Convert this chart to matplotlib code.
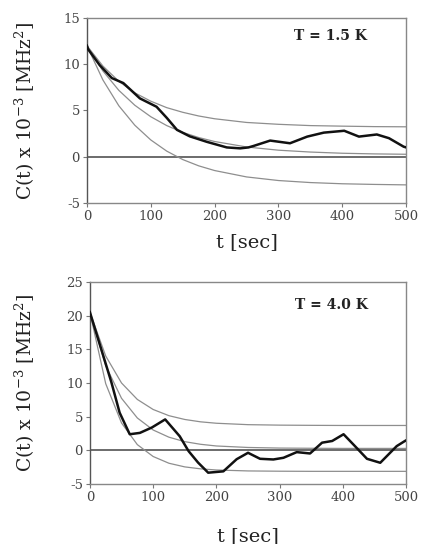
import matplotlib
matplotlib.use("Agg")
import matplotlib.pyplot as plt

# measured correlation, T = 1.5 K
t_top = [0, 2, 20, 39, 57, 83, 109, 125, 141, 161, 188, 219, 240, 253, 261, 287,
         318, 345, 371, 403, 426, 454, 473, 496, 500]
c_top = [12.0, 11.6, 9.9, 8.5, 7.96, 6.3, 5.4, 4.2, 2.9, 2.2, 1.6, 1.0, 0.9, 1.0,
         1.16, 1.74, 1.45, 2.17, 2.6, 2.8, 2.17, 2.4, 2.0, 1.08, 1.0]

# measured correlation, T = 4.0 K
t_bot = [0, 18, 34, 47, 63, 79, 98, 119, 142, 156, 171, 187, 211, 232, 250, 269,
         290, 306, 327, 348, 367, 383, 401, 419, 438, 459, 485, 498, 500]
c_bot = [20.5, 15.0, 10.1, 5.6, 2.4, 2.6, 3.4, 4.6, 2.1, -0.1, -1.8, -3.3, -3.1,
         -1.3, -0.35, -1.24, -1.34, -1.09, -0.25, -0.45, 1.15, 1.4, 2.4, 0.64,
         -1.24, -1.83, 0.64, 1.4, 1.5]

# fitted curves (grey)
t_fit = [0, 25, 50, 75, 100, 125, 150, 175, 200, 250, 300, 350, 400, 450, 500]
top_hi = [12.0, 9.8, 8.15, 6.9, 6.0, 5.3, 4.8, 4.4, 4.1, 3.7, 3.5, 3.36, 3.3, 3.25, 3.23]
top_mid = [12.0, 9.27, 7.17, 5.56, 4.32, 3.36, 2.63, 2.07, 1.64, 1.05, 0.7, 0.5, 0.37, 0.3, 0.26]
top_lo = [12.0, 8.3, 5.5, 3.4, 1.81, 0.6, -0.31, -0.99, -1.5, -2.19, -2.58, -2.8, -2.93, -3.0, -3.05]
bot_hi = [20.5, 14.0, 10.0, 7.56, 6.07, 5.15, 4.59, 4.24, 4.03, 3.82, 3.75, 3.72, 3.7, 3.7, 3.7]
bot_mid = [20.5, 12.56, 7.73, 4.81, 3.03, 1.96, 1.3, 0.91, 0.66, 0.44, 0.35, 0.32, 0.3, 0.3, 0.3]
bot_lo = [20.5, 9.9, 4.07, 0.86, -0.9, -1.9, -2.44, -2.73, -2.9, -3.04, -3.08, -3.1, -3.1, -3.1, -3.1]

plt.rcParams['font.family'] = ['DejaVu Serif']
plt.rcParams['mathtext.fontset'] = 'dejavuserif'
plt.rcParams['axes.unicode_minus'] = False

fig = plt.figure(figsize=(4.24, 5.44), dpi=100)
ax1 = fig.add_axes([0.205, 0.627, 0.753, 0.340])
ax2 = fig.add_axes([0.212, 0.110, 0.746, 0.372])


def style(ax, ylim, yticks, label, lx, ly, xl_y, yl_x):
    ax.set_xlim(0, 500)
    ax.set_ylim(*ylim)
    ax.set_xticks([0, 100, 200, 300, 400, 500])
    ax.set_yticks(yticks)
    for s in ax.spines.values():
        s.set_color('#888888')
        s.set_linewidth(1.0)
    ax.spines['left'].set_color('#555555')
    ax.tick_params(direction='out', length=3, width=0.8, color='#777777',
                   labelsize=9.5, labelcolor='#444444', pad=2)
    ax.axhline(0, color='#444444', linewidth=1.1, zorder=1)
    ax.set_xlabel('t [sec]', fontsize=14, color='#222222')
    ax.set_ylabel(r'C(t) x 10$^{-3}$ [MHz$^2$]', fontsize=13.5, color='#222222')
    ax.xaxis.set_label_coords(0.5, xl_y)
    ax.yaxis.set_label_coords(yl_x, 0.5)
    ax.text(lx, ly, label, transform=ax.transAxes, ha='center', va='center',
            fontsize=10, fontweight='bold', color='#222222')


style(ax1, (-5, 15), [-5, 0, 5, 10, 15], 'T = 1.5 K', 0.763, 0.905, -0.162, -0.157)
style(ax2, (-5, 25), [-5, 0, 5, 10, 15, 20, 25], 'T = 4.0 K', 0.763, 0.884, -0.213, -0.168)

for y in (top_hi, top_mid, top_lo):
    ax1.plot(t_fit, y, color='#8e8e8e', linewidth=0.9, zorder=2)
ax1.plot(t_top, c_top, color='#111111', linewidth=1.8, zorder=3)

for y in (bot_hi, bot_mid, bot_lo):
    ax2.plot(t_fit, y, color='#8e8e8e', linewidth=0.9, zorder=2)
ax2.plot(t_bot, c_bot, color='#111111', linewidth=1.8, zorder=3)

fig.savefig('out.png', dpi=100)
